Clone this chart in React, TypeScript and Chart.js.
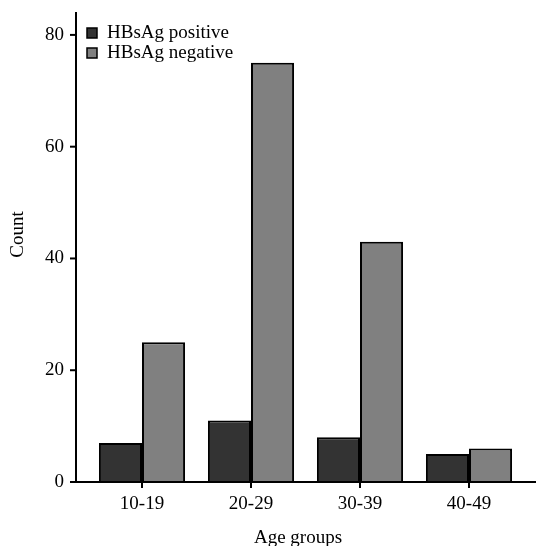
import React, { useEffect, useRef } from "react";
import { Chart, registerables } from "chart.js";

Chart.register(...registerables);

const categories = ["10-19", "20-29", "30-39", "40-49"];
const positiveCounts = [7, 11, 8, 5];
const negativeCounts = [25, 75, 43, 6];
const seriesNames = ["HBsAg positive", "HBsAg negative"];
const yTicks = [0, 20, 40, 60, 80];
const xTitle = "Age groups";
const yTitle = "Count";

const FONT = "'Liberation Serif', 'Times New Roman', serif";
const FS = 19;

const axesPlugin = {
  id: "customAxes",
  afterDatasetsDraw(chart: any) {
    const { ctx, chartArea, scales } = chart;
    const y = scales.y;
    const x = scales.x;
    const axisX = chartArea.left - 11.5;
    const axisY = chartArea.bottom;
    ctx.save();
    ctx.strokeStyle = "#000";
    ctx.lineWidth = 2;
    ctx.beginPath();
    ctx.moveTo(axisX, chartArea.top);
    ctx.lineTo(axisX, axisY);
    ctx.stroke();
    ctx.beginPath();
    ctx.moveTo(axisX - 6, axisY);
    ctx.lineTo(chart.width, axisY);
    ctx.stroke();
    yTicks.forEach((v) => {
      const py = y.getPixelForValue(v);
      ctx.beginPath();
      ctx.moveTo(axisX - 6, py);
      ctx.lineTo(axisX, py);
      ctx.stroke();
    });
    categories.forEach((_, i) => {
      const px = x.getPixelForValue(i);
      ctx.beginPath();
      ctx.moveTo(px, axisY);
      ctx.lineTo(px, axisY + 6);
      ctx.stroke();
    });
    // legend
    const ds = chart.data.datasets;
    ds.forEach((d: any, i: number) => {
      const ly = 33 + i * 20;
      ctx.fillStyle = d.backgroundColor;
      ctx.strokeStyle = "#000";
      ctx.lineWidth = 1.5;
      ctx.fillRect(87, ly - 5, 10, 10);
      ctx.strokeRect(87, ly - 5, 10, 10);
      ctx.fillStyle = "#000";
      ctx.font = `${FS}px ${FONT}`;
      ctx.textBaseline = "middle";
      ctx.textAlign = "left";
      ctx.fillText(d.label, 107, ly);
    });
    // axis titles
    ctx.fillStyle = "#000";
    ctx.font = `${FS}px ${FONT}`;
    ctx.textAlign = "center";
    ctx.textBaseline = "alphabetic";
    ctx.fillText(xTitle, 298, 543);
    ctx.translate(23, 234.5);
    ctx.rotate(-Math.PI / 2);
    ctx.fillText(yTitle, 0, 0);
    ctx.restore();
  },
};

export default function App() {
  const ref = useRef<HTMLCanvasElement | null>(null);
  useEffect(() => {
    document.body.style.margin = "0";
    const canvas = ref.current;
    if (!canvas) return;
    const chart = new Chart(canvas, {
      type: "bar",
      data: {
        labels: categories,
        datasets: [
          {
            label: seriesNames[0],
            data: positiveCounts,
            backgroundColor: "#333333",
            borderColor: "#000000",
            borderWidth: 2,
            barPercentage: 1,
            categoryPercentage: 0.79,
          },
          {
            label: seriesNames[1],
            data: negativeCounts,
            backgroundColor: "#808080",
            borderColor: "#000000",
            borderWidth: 2,
            barPercentage: 1,
            categoryPercentage: 0.79,
          },
        ],
      },
      options: {
        animation: false,
        responsive: false,
        devicePixelRatio: 1,
        layout: { padding: { top: 12, right: 12.5, left: 0, bottom: 0 } },
        plugins: {
          legend: { display: false },
          tooltip: { enabled: false },
        },
        scales: {
          x: {
            grid: { display: false, drawTicks: false },
            border: { display: false },
            ticks: { color: "#000", font: { family: FONT, size: FS }, padding: 11 },
            afterFit: (s: any) => {
              s.height = 64;
              s.paddingLeft = 0;
              s.paddingRight = 0;
            },
          },
          y: {
            min: 0,
            max: 84.1,
            afterBuildTicks: (s: any) => {
              s.ticks = yTicks.map((v) => ({ value: v }));
            },
            grid: { display: false, drawTicks: false },
            border: { display: false },
            ticks: { color: "#000", font: { family: FONT, size: FS }, padding: 23.5 },
            afterFit: (s: any) => {
              s.width = 87.5;
              s.paddingTop = 0;
              s.paddingBottom = 0;
            },
          },
        },
      },
      plugins: [axesPlugin],
    });
    return () => chart.destroy();
  }, []);
  return <canvas ref={ref} width={536} height={546} style={{ display: "block" }} />;
}
